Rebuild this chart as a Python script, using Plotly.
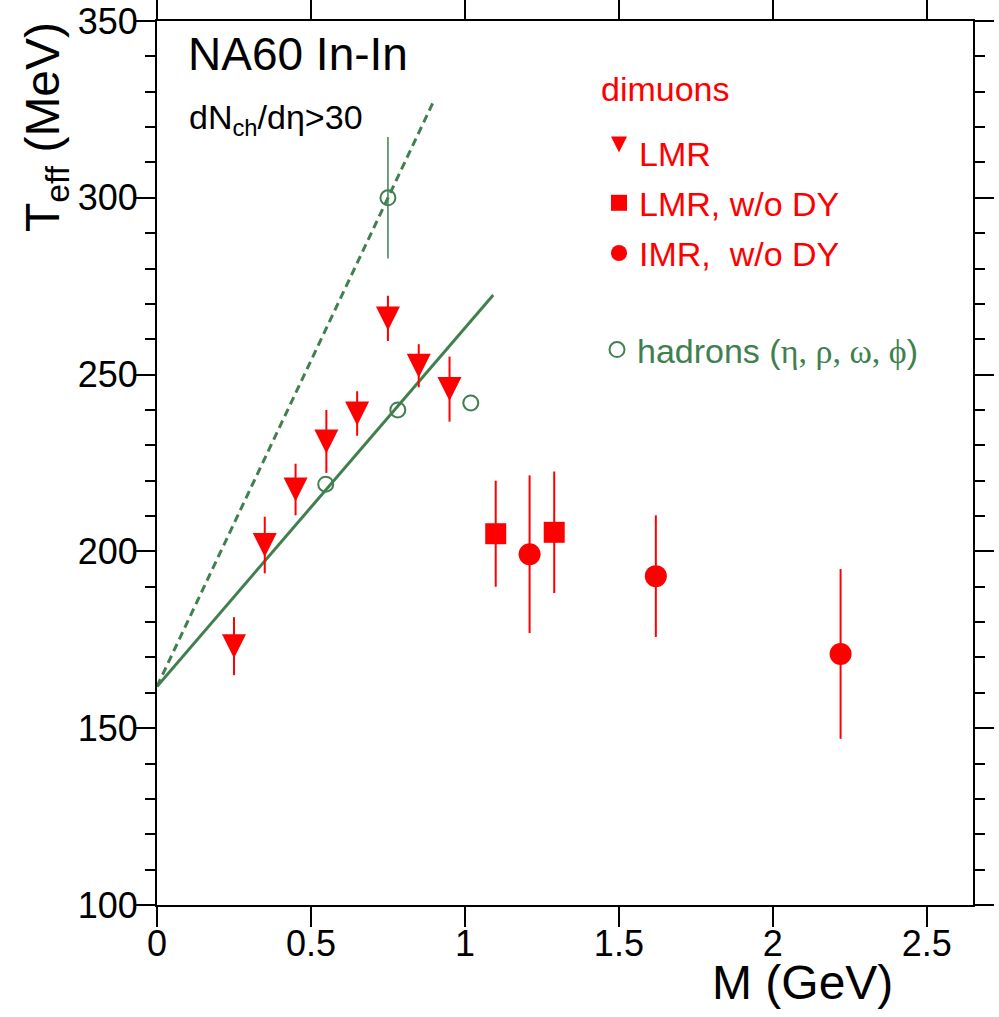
import plotly.graph_objects as go

# ---------------- data ----------------
# LMR dimuons (inverted triangles)
lmr_m = [0.25, 0.35, 0.45, 0.55, 0.65, 0.75, 0.85, 0.95]
lmr_t = [173.2, 201.8, 217.5, 231.1, 239.0, 265.9, 252.5, 245.9]
lmr_err = [8.2, 8.0, 7.3, 8.9, 6.3, 6.4, 6.1, 9.2]

# LMR w/o DY (squares)
lmrdy_m = [1.10, 1.29]
lmrdy_t = [205.0, 205.4]
lmrdy_err = [15.0, 17.2]

# IMR w/o DY (circles)
imr_m = [1.21, 1.62, 2.22]
imr_t = [199.2, 193.0, 171.0]
imr_err = [22.3, 17.2, 24.0]

# hadrons (eta, rho, omega, phi) - open circles
had_m = [0.548, 0.75, 0.782, 1.019]
had_t = [219.0, 300.0, 240.0, 242.0]
had_err = [0.0, 17.2, 0.0, 0.0]

# lines
fit_m = [0.0, 1.092]
fit_t = [161.8, 272.5]
dash_m = [0.0, 0.895]
dash_t = [161.8, 326.7]

# axis ranges / ticks
x_range = [0.0, 2.65]
y_range = [100.0, 350.0]

# ---------------- style ----------------
W, H = 999, 1017
ML, MR, MT, MB = 157, 26, 21, 112
PLOT_W = W - ML - MR
PLOT_H = H - MT - MB
RED = "#ff0000"
GREEN = "#40804f"
FONT = "Liberation Sans, Arial, Helvetica, sans-serif"

TRI_SIZE = 24
# the arrow-down symbol has its tip at the anchor: shift by half its height
tri_off = (TRI_SIZE / 2) * (y_range[1] - y_range[0]) / PLOT_H

fig = go.Figure()

# fit lines
fig.add_trace(go.Scatter(x=dash_m, y=dash_t, mode="lines",
                         line=dict(color=GREEN, width=3, dash="8px,5px"),
                         showlegend=False, hoverinfo="skip"))
fig.add_trace(go.Scatter(x=fit_m, y=fit_t, mode="lines",
                         line=dict(color=GREEN, width=3),
                         showlegend=False, hoverinfo="skip"))

# LMR error bars (main axis)
fig.add_trace(go.Scatter(x=lmr_m, y=lmr_t, mode="markers",
                         marker=dict(size=2, color=RED),
                         error_y=dict(type="data", array=lmr_err, visible=True,
                                      color=RED, thickness=2, width=0),
                         showlegend=False, hoverinfo="skip"))
# LMR triangles (offset axis so the triangle is centred on the value)
fig.add_trace(go.Scatter(x=lmr_m, y=lmr_t, mode="markers", yaxis="y2",
                         marker=dict(symbol="arrow-down", size=TRI_SIZE, color=RED,
                                     line=dict(width=0)),
                         name="LMR", legendgroup="g1"))

fig.add_trace(go.Scatter(x=lmrdy_m, y=lmrdy_t, mode="markers",
                         marker=dict(symbol="square", size=21, color=RED,
                                     line=dict(width=0)),
                         error_y=dict(type="data", array=lmrdy_err, visible=True,
                                      color=RED, thickness=2, width=0),
                         name="LMR, w/o DY", legendgroup="g2"))

fig.add_trace(go.Scatter(x=imr_m, y=imr_t, mode="markers",
                         marker=dict(symbol="circle", size=22, color=RED,
                                     line=dict(width=0)),
                         error_y=dict(type="data", array=imr_err, visible=True,
                                      color=RED, thickness=2, width=0),
                         name="IMR,\u00a0 w/o DY", legendgroup="g3"))

fig.add_trace(go.Scatter(x=had_m, y=had_t, mode="markers",
                         marker=dict(symbol="circle-open", size=15, color=GREEN,
                                     line=dict(width=2, color=GREEN)),
                         error_y=dict(type="data", array=had_err, visible=True,
                                      color=GREEN, thickness=1.5, width=0),
                         name=('hadrons (<span style="font-family:Liberation Serif,Times New Roman,serif">'
                               '\u03b7, \u03c1, \u03c9, \u03d5</span>)'),
                         legend="legend2"))

axis_common = dict(showgrid=False, zeroline=False, showline=True, linewidth=2,
                   linecolor="black", mirror="ticks", ticks="outside",
                   tickwidth=2, tickcolor="black", automargin=False,
                   tickfont=dict(family=FONT, size=36, color="black"))

fig.update_layout(
    width=W, height=H,
    margin=dict(l=ML, r=MR, t=MT, b=MB, pad=0, autoexpand=False),
    paper_bgcolor="white", plot_bgcolor="white",
    font=dict(family=FONT, color="black"),
    xaxis=dict(range=x_range, dtick=0.5, tick0=0, ticklen=20,
               ticklabelstandoff=-14, **axis_common),
    yaxis=dict(range=y_range, dtick=50, tick0=100, ticklen=19,
               ticklabelstandoff=-9,
               minor=dict(dtick=10, ticklen=10, tickwidth=2, tickcolor="black",
                          ticks="outside", showgrid=False),
               **axis_common),
    yaxis2=dict(overlaying="y", range=[y_range[0] + tri_off, y_range[1] + tri_off],
                autorange=False, visible=False, showgrid=False, zeroline=False,
                automargin=False),
    legend=dict(x=(599 - ML) / PLOT_W, y=(H - MB - 124) / PLOT_H,
                xanchor="left", yanchor="top", bgcolor="rgba(0,0,0,0)",
                font=dict(family=FONT, size=34, color=RED),
                traceorder="grouped", tracegroupgap=3, itemsizing="trace"),
    legend2=dict(x=(597 - ML) / PLOT_W, y=(H - MB - 321) / PLOT_H,
                 xanchor="left", yanchor="top", bgcolor="rgba(0,0,0,0)",
                 font=dict(family=FONT, size=34, color=GREEN),
                 itemsizing="trace"),
    showlegend=True,
)

fig.add_annotation(text="dimuons", xref="paper", yref="paper", x=0, y=1,
                   xanchor="left", yanchor="middle", xshift=601 - ML - 2, yshift=-(89 - MT),
                   showarrow=False, font=dict(family=FONT, size=34, color=RED))
fig.add_annotation(text="NA60 In-In", xref="paper", yref="paper", x=0, y=1,
                   xanchor="left", yanchor="middle", xshift=29, yshift=-33,
                   showarrow=False, font=dict(family=FONT, size=46, color="black"))
fig.add_annotation(text="dN<sub>ch</sub>/d\u03b7&gt;30", xref="paper", yref="paper", x=0, y=1,
                   xanchor="left", yanchor="middle", xshift=30, yshift=-98,
                   showarrow=False, font=dict(family=FONT, size=34, color="black"))
fig.add_annotation(text="T<sub>eff</sub> (MeV)", xref="paper", yref="paper", x=0, y=1,
                   xanchor="left", yanchor="top", xshift=-143, yshift=1, textangle=-90,
                   showarrow=False, font=dict(family=FONT, size=48, color="black"))
fig.add_annotation(text="M (GeV)", xref="paper", yref="paper", x=1, y=0,
                   xanchor="right", yanchor="middle", xshift=-78, yshift=-77,
                   showarrow=False, font=dict(family=FONT, size=48, color="black"))

fig.write_html("out.html")
